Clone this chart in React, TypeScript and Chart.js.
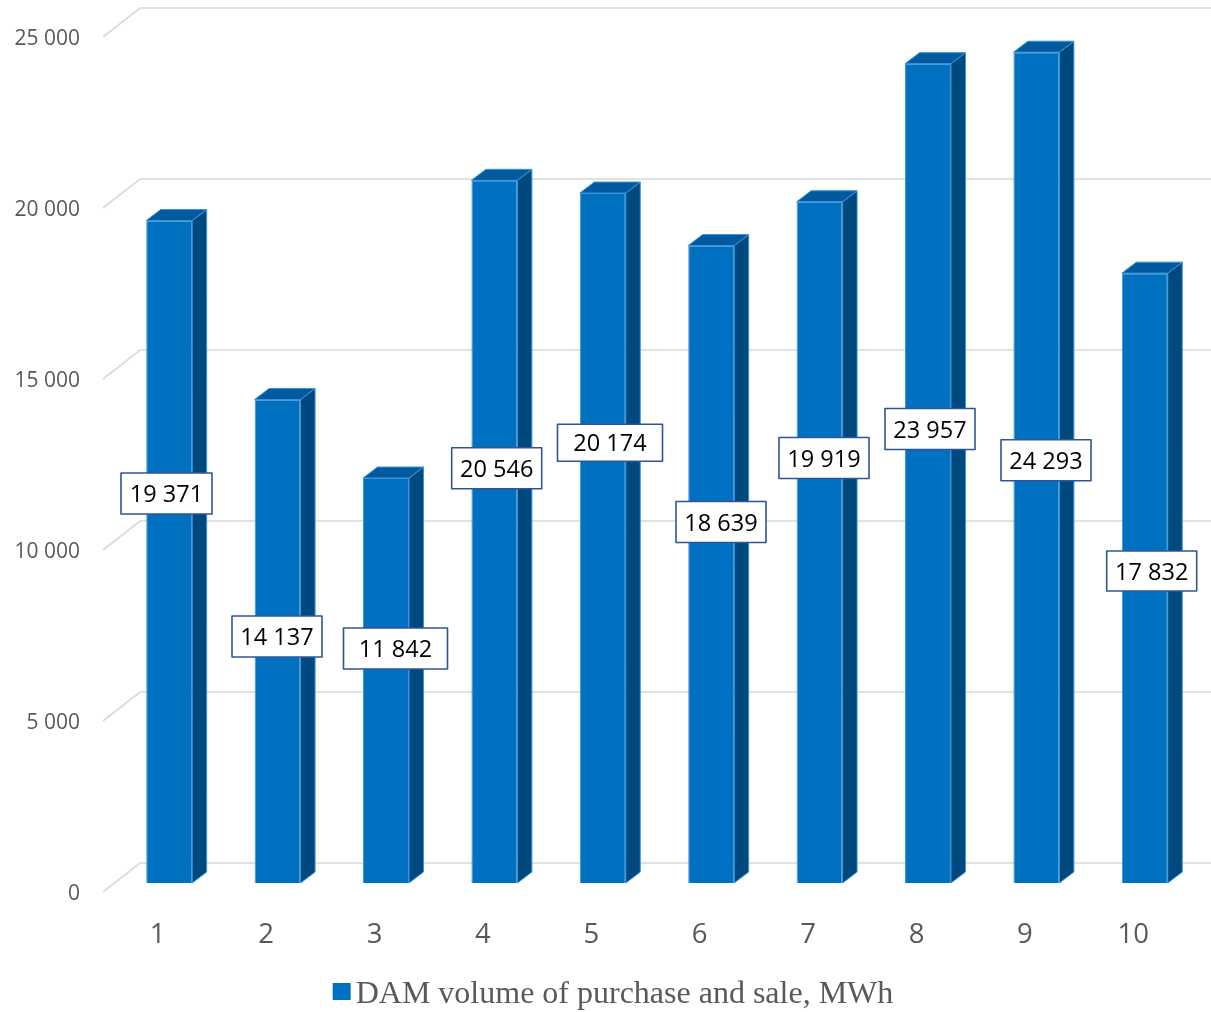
import React, { useEffect, useRef } from 'react';
import { Chart, registerables } from 'chart.js';

Chart.register(...registerables);

// ---------- data ----------
const categories = ['1', '2', '3', '4', '5', '6', '7', '8', '9', '10'];
const volumes = [19371, 14137, 11842, 20546, 20174, 18639, 19919, 23957, 24293, 17832];
const yTicks = [0, 5000, 10000, 15000, 20000, 25000];
const seriesLabel = 'DAM volume of purchase and sale, MWh';
// level (in MWh units) at which each data label sits on its bar
const labelLevels = [11389, 7208, 6857, 12126, 12874, 10556, 12427, 13275, 12360, 9123];

// ---------- layout / style (not data) ----------
const labelShift = [-2.7, -0.6, 9.5, 2.3, 7.2, 9.8, 4.4, 2, 9.6, 6.9];
const labelBoxW = [91, 90, 104, 90, 105, 90, 90, 90, 90, 90];
const labelBoxH = [41, 41, 41, 41, 37, 41, 41, 41, 41, 40];
const W = 1211;
const H = 1012;
const DX = 14.5;
const DY = -11;
const FRONT = '#0070C0';
const SIDE = '#00497E';
const TOP = '#005A9D';
const EDGE = '#3A93DF';

const fmt = (v: number) => String(v).replace(/\B(?=(\d{3})+(?!\d))/g, ' ');

const excel3d = {
  id: 'excel3d',
  beforeDatasetsDraw(chart: any) {
    const { ctx, chartArea } = chart;
    const y = chart.scales.y;
    ctx.save();
    ctx.strokeStyle = '#D9D9D9';
    ctx.lineWidth = 1.6;
    const backX = chartArea.left + 25;
    const frontX = chartArea.left - 12;
    for (const v of yTicks) {
      const py = y.getPixelForValue(v);
      ctx.beginPath();
      ctx.moveTo(frontX, py + 9);
      ctx.lineTo(backX, py - 20);
      ctx.lineTo(chart.width, py - 20);
      ctx.stroke();
    }
    ctx.restore();
  },
  afterDatasetsDraw(chart: any) {
    const { ctx } = chart;
    const y = chart.scales.y;
    const meta = chart.getDatasetMeta(0);
    ctx.save();
    ctx.lineJoin = 'round';
    meta.data.forEach((bar: any) => {
      const p = bar.getProps(['x', 'y', 'base', 'width'], true);
      const l = p.x - p.width / 2;
      const r = p.x + p.width / 2;
      const top = p.y;
      const base = p.base;
      // side face
      ctx.beginPath();
      ctx.moveTo(r, top);
      ctx.lineTo(r + DX, top + DY);
      ctx.lineTo(r + DX, base + DY);
      ctx.lineTo(r, base);
      ctx.closePath();
      ctx.fillStyle = SIDE;
      ctx.fill();
      ctx.strokeStyle = EDGE;
      ctx.lineWidth = 1;
      ctx.stroke();
      // top face
      ctx.beginPath();
      ctx.moveTo(l, top);
      ctx.lineTo(l + DX, top + DY);
      ctx.lineTo(r + DX, top + DY);
      ctx.lineTo(r, top);
      ctx.closePath();
      ctx.fillStyle = TOP;
      ctx.fill();
      ctx.stroke();
    });
    // data labels
    ctx.font = '23.5px "Open Sans"';
    ctx.textAlign = 'center';
    ctx.textBaseline = 'middle';
    meta.data.forEach((bar: any, i: number) => {
      const cx = bar.x + labelShift[i];
      const cy = y.getPixelForValue(labelLevels[i]);
      const w = labelBoxW[i];
      const h = labelBoxH[i];
      ctx.fillStyle = '#FFFFFF';
      ctx.fillRect(cx - w / 2, cy - h / 2, w, h);
      ctx.strokeStyle = '#2F5597';
      ctx.lineWidth = 1.6;
      ctx.strokeRect(cx - w / 2, cy - h / 2, w, h);
      ctx.fillStyle = '#000000';
      ctx.fillText(fmt(volumes[i]), cx, cy + 2);
    });
    ctx.restore();
  },
  afterDraw(chart: any) {
    const { ctx } = chart;
    ctx.save();
    ctx.font = '32px "Liberation Serif"';
    const tw = ctx.measureText(seriesLabel).width;
    const box = 18;
    const gap = 5;
    const total = box + gap + tw;
    const start = 613 - total / 2;
    ctx.fillStyle = FRONT;
    ctx.fillRect(start, 983, box, 17);
    ctx.fillStyle = '#595959';
    ctx.textAlign = 'left';
    ctx.textBaseline = 'alphabetic';
    ctx.fillText(seriesLabel, start + box + gap, 1003);
    ctx.restore();
  },
};

export default function App() {
  const ref = useRef<HTMLCanvasElement | null>(null);
  useEffect(() => {
    document.body.style.margin = '0';
    const canvas = ref.current;
    if (!canvas) return;
    const chart = new Chart(canvas, {
      type: 'bar',
      data: {
        labels: categories,
        datasets: [
          {
            label: seriesLabel,
            data: volumes,
            backgroundColor: FRONT,
            borderColor: EDGE,
            borderWidth: 1,
            categoryPercentage: 1,
            barPercentage: 0.424,
          },
        ],
      },
      options: {
        animation: false,
        responsive: false,
        devicePixelRatio: 1,
        layout: { padding: { top: 28, right: 12, bottom: 0, left: 0 } },
        plugins: {
          legend: { display: false },
          tooltip: { enabled: false },
        },
        scales: {
          x: {
            grid: { display: false, drawTicks: false },
            border: { display: false },
            ticks: {
              color: '#595959',
              font: { family: 'Open Sans', size: 27.5 },
              padding: 36,
              labelOffset: -11.5,
              maxRotation: 0,
              autoSkip: false,
            },
            afterFit(s: any) {
              s.height = H - 883;
              s.paddingLeft = 0;
              s.paddingRight = 0;
            },
          },
          y: {
            min: 0,
            max: 25000,
            grid: { display: false, drawTicks: false },
            border: { display: false },
            ticks: {
              stepSize: 5000,
              callback: (v: any) => fmt(Number(v)),
              color: '#595959',
              font: { family: 'Open Sans', size: 21 },
              padding: 35,
              labelOffset: 11,
            },
            afterFit(s: any) {
              s.width = 115;
              s.paddingTop = 0;
              s.paddingBottom = 0;
            },
          },
        },
      },
      plugins: [excel3d],
    });
    return () => chart.destroy();
  }, []);
  return (
    <div style={{ width: W, height: H, background: '#fff' }}>
      <canvas ref={ref} width={W} height={H} style={{ display: 'block' }} />
    </div>
  );
}
